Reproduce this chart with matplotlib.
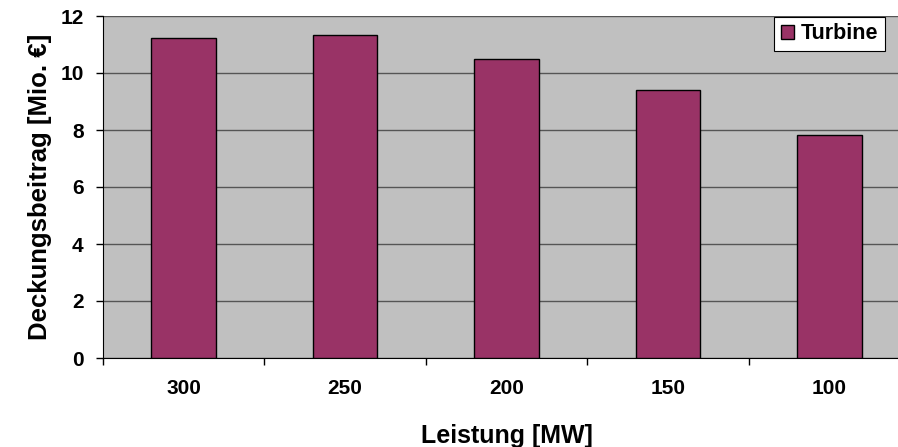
import matplotlib.pyplot as plt
import numpy as np

# Deckungsbeitrag je Turbinenleistung
leistung = ["300", "250", "200", "150", "100"]
deckungsbeitrag = [11.24, 11.34, 10.49, 9.40, 7.81]
y_ticks = [0, 2, 4, 6, 8, 10, 12]

plt.rcParams['font.family'] = ['Liberation Sans', 'DejaVu Sans']
plt.rcParams['font.weight'] = 'bold'

fig = plt.figure(figsize=(8.98, 4.47), dpi=100)
ax = fig.add_axes([103 / 898, 89 / 447, 807 / 898, 342 / 447])
ax.set_facecolor('#c0c0c0')

x = np.arange(len(leistung))
ax.bar(x, deckungsbeitrag, width=0.4, color='#993366', edgecolor='black',
       linewidth=1.0, label='Turbine', zorder=3)

ax.set_xlim(-0.5, len(leistung) - 0.5)
ax.set_ylim(0, 12)
ax.set_yticks(y_ticks)
ax.yaxis.grid(True, color='#555555', linewidth=1.0, zorder=1)
ax.set_axisbelow(True)

# category boundaries get the tick marks, labels sit in the middle
ax.set_xticks(np.arange(len(leistung) + 1) - 0.5)
ax.set_xticklabels([])
ax.set_xticks(x, minor=True)
ax.set_xticklabels(leistung, minor=True)
ax.tick_params(axis='x', which='major', length=5, width=1, direction='out')
ax.tick_params(axis='x', which='minor', length=0, pad=15, labelsize=15)
ax.tick_params(axis='y', length=5, width=1, direction='out', pad=9, labelsize=15)

for side in ['top', 'right']:
    ax.spines[side].set_visible(False)
ax.spines['left'].set_color('black')
ax.spines['bottom'].set_color('black')

ax.set_xlabel('Leistung [MW]', fontsize=18, fontweight='bold', labelpad=19)
ax.set_ylabel('Deckungsbeitrag [Mio. €]', fontsize=18.5, fontweight='bold', labelpad=6)

leg = ax.legend(loc='upper right', bbox_to_anchor=(885 / 898, 1 - 17 / 447),
                bbox_transform=fig.transFigure, borderaxespad=0, fancybox=False,
                framealpha=1, edgecolor='black', handlelength=0.6, handleheight=0.6,
                handletextpad=0.35, borderpad=0.3, prop={'size': 15.5, 'weight': 'bold'})
leg.get_frame().set_linewidth(0.8)

fig.savefig('out.png', dpi=100)
